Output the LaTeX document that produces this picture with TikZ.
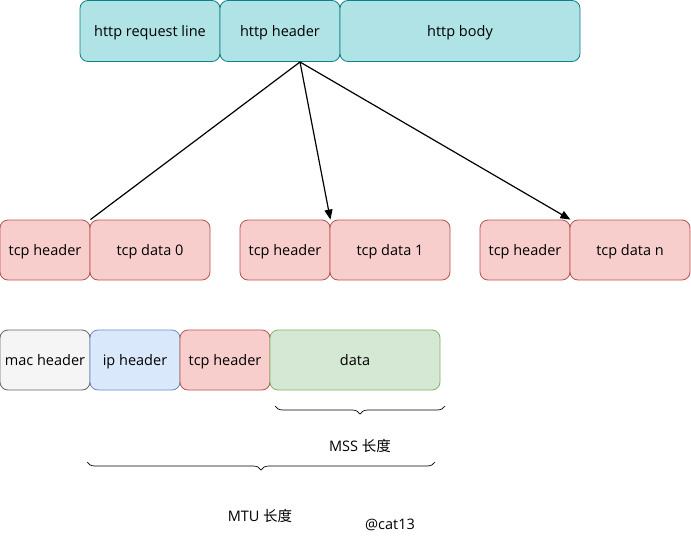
\documentclass[tikz,border=0pt]{standalone}
\usepackage{fontspec}
\setmainfont{Open Sans}
\newfontfamily\cjk{Noto Sans CJK SC}
\usetikzlibrary{decorations.pathreplacing,arrows.meta}
\definecolor{tealfill}{HTML}{B0E3E6}
\definecolor{tealline}{HTML}{0E8088}
\definecolor{redfill}{HTML}{F8CECC}
\definecolor{redline}{HTML}{B85450}
\definecolor{grayfill}{HTML}{F5F5F5}
\definecolor{grayline}{HTML}{666666}
\definecolor{bluefill}{HTML}{DAE8FC}
\definecolor{blueline}{HTML}{6C8EBF}
\definecolor{greenfill}{HTML}{D5E8D4}
\definecolor{greenline}{HTML}{82B366}
\begin{document}
\begin{tikzpicture}[x=1pt,y=-1pt,
  box/.style={draw, rounded corners=8pt, line width=0.8pt, inner sep=0pt,
    text height=11pt, text depth=0pt, font=\fontsize{14.5}{16}\selectfont},
  httpbox/.style={box, fill=tealfill, draw=tealline},
  tcpbox/.style={box, fill=redfill, draw=redline},
  macbox/.style={box, fill=grayfill, draw=grayline},
  ipbox/.style={box, fill=bluefill, draw=blueline},
  databox/.style={box, fill=greenfill, draw=greenline},
  conn/.style={line width=1.2pt},
  arr/.style={conn, -{Triangle[length=10pt,width=8pt]}},
  brc/.style={decorate, decoration={brace, amplitude=8pt}, line width=0.7pt},
  lbl/.style={font=\fontsize{14.5}{16}\selectfont}
]
\useasboundingbox (0,0) rectangle (691,541);
\fill[white] (0,0) rectangle (691,541);

% top row
\node[httpbox, minimum width=140pt, minimum height=61pt] (reqline) at (150,31) {http request line};
\node[httpbox, minimum width=120pt, minimum height=61pt] (hhdr) at (280,31) {http header};
\node[httpbox, minimum width=240pt, minimum height=61pt] (hbody) at (460,31) {http body};

% tcp segments
\node[tcpbox, minimum width=90pt, minimum height=60pt] (th0) at (45,250) {tcp header};
\node[tcpbox, minimum width=120pt, minimum height=60pt] (td0) at (150,250) {tcp data 0};
\node[tcpbox, minimum width=90pt, minimum height=60pt] (th1) at (285,250) {tcp header};
\node[tcpbox, minimum width=120pt, minimum height=60pt] (td1) at (390,250) {tcp data 1};
\node[tcpbox, minimum width=90pt, minimum height=60pt] (thn) at (525,250) {tcp header};
\node[tcpbox, minimum width=120pt, minimum height=60pt] (tdn) at (630,250) {tcp data n};

% frame
\node[macbox, minimum width=90pt, minimum height=60pt] (mac) at (45,360) {mac header};
\node[ipbox, minimum width=90pt, minimum height=60pt] (ip) at (135,360) {ip header};
\node[tcpbox, minimum width=90pt, minimum height=60pt] (tcph) at (225,360) {tcp header};
\node[databox, minimum width=170pt, minimum height=60pt] (data) at (355,360) {data};

% connectors
\coordinate (src) at (300,62);
\draw[conn] (src) -- (th0.north east);
\draw[arr] (src) -- (th1.north east);
\draw[arr] (src) -- (thn.north east);

% braces
\coordinate (mssL) at (275,406);
\coordinate (mssR) at (445,406);
\draw[brc] (mssR) -- (mssL);
\node[lbl] (mss) at (360,446) {MSS {\cjk 长度}};
\coordinate (mtuL) at (87,462);
\coordinate (mtuR) at (435,462);
\draw[brc] (mtuR) -- (mtuL);
\node[lbl] (mtu) at (260,516) {MTU {\cjk 长度}};
\node[lbl] (cat) at (390,525) {@cat13};
\end{tikzpicture}
\end{document}
